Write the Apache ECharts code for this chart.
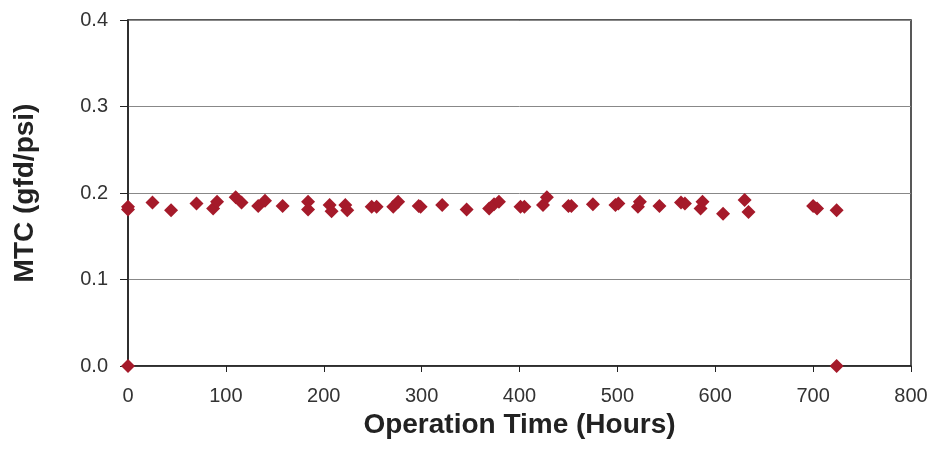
<!DOCTYPE html>
<html>
<head>
    <meta charset="utf-8" />
    <title>MTC</title>
    <script src="https://cdn.jsdelivr.net/npm/echarts@6/dist/echarts.min.js"></script>
    <style type="text/css">
        body { margin: 0; padding: 0; background-color: #fff; overflow: hidden; }
        #main { width: 949px; height: 454px; }
    </style>
</head>
<body>
    <div id="main"></div>
    <script type="text/javascript">
        // operation time (hours) and MTC (gfd/psi)
        var hours = [0, 0, 0, 25, 44, 70, 87, 91, 110, 116, 133, 140, 158, 184, 184, 206, 208, 222,
            224, 249, 254, 271, 276, 297, 299, 321, 346, 369, 374, 379, 401, 405, 424, 428, 450, 453,
            475, 498, 501, 521, 523, 543, 565, 569, 585, 587, 608, 630, 634, 700, 704, 724, 724];
        var mtc = [0.184, 0.181, 0.0, 0.189, 0.180, 0.188, 0.182, 0.190, 0.195, 0.189, 0.185, 0.191,
            0.185, 0.190, 0.181, 0.186, 0.179, 0.186, 0.180, 0.184, 0.184, 0.184, 0.190, 0.185, 0.184,
            0.186, 0.181, 0.182, 0.187, 0.190, 0.184, 0.184, 0.186, 0.195, 0.185, 0.185, 0.187, 0.186,
            0.188, 0.184, 0.190, 0.185, 0.189, 0.188, 0.182, 0.190, 0.176, 0.192, 0.178, 0.185, 0.182,
            0.180, 0.0];

        var points = hours.map(function (h, i) { return [h, mtc[i]]; });

        var myChart = echarts.init(document.getElementById('main'));
        var options = {
            animation: false,
            textStyle: { fontFamily: 'Liberation Sans, Arial, sans-serif' },
            grid: {
                left: 128, top: 20, right: 38, bottom: 88,
                show: true, borderColor: '#222', borderWidth: 1.5
            },
            xAxis: {
                type: 'value', min: 0, max: 800, interval: 100,
                name: 'Operation Time (Hours)', nameLocation: 'middle', nameGap: 41,
                nameTextStyle: { fontSize: 28, fontWeight: 'bold', color: '#222' },
                axisLine: { onZero: false, lineStyle: { color: '#222', width: 1.5 } },
                axisTick: { show: true, length: 6, lineStyle: { color: '#222' } },
                axisLabel: { fontSize: 20, color: '#333', margin: 20 },
                splitLine: { show: false }
            },
            yAxis: {
                type: 'value', min: 0, max: 0.4, interval: 0.1,
                name: 'MTC (gfd/psi)', nameLocation: 'middle', nameGap: 89, nameRotate: 90,
                nameTextStyle: { fontSize: 28, fontWeight: 'bold', color: '#222' },
                axisLine: { show: true, lineStyle: { color: '#222', width: 1.5 } },
                axisTick: { show: true, length: 8, lineStyle: { color: '#222' } },
                axisLabel: {
                    fontSize: 20, color: '#333', margin: 20,
                    formatter: function (v) { return v.toFixed(1); }
                },
                splitLine: { show: true, lineStyle: { color: '#888', width: 1 } }
            },
            series: [{
                type: 'scatter',
                symbol: 'diamond',
                symbolSize: 14,
                clip: false,
                itemStyle: { color: '#a51a2a', opacity: 1 },
                data: points
            }]
        };
        myChart.setOption(options);
    </script>
</body>
</html>
